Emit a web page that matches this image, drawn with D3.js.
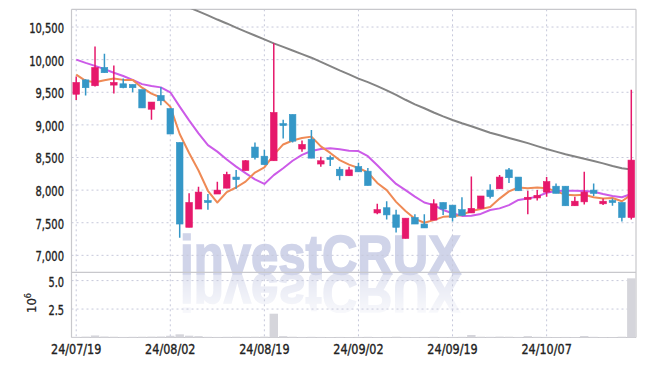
<!DOCTYPE html>
<html>
<head>
<meta charset="utf-8">
<script src="https://cdn.jsdelivr.net/npm/d3@7"></script>
<style>
  html, body { margin: 0; padding: 0; background: #fff; }
  svg { display: block; }
  .tick-label { font-family: 'DejaVu Sans Condensed', 'DejaVu Sans', sans-serif; font-size: 14px; fill: #222; stroke: #222; stroke-width: 0.35px; }
</style>
</head>
<body>
<svg id="chart" width="645" height="366"></svg>
<script>
// trading days shown on the chart
const dates = [
  '24/07/19', '24/07/22', '24/07/23', '24/07/24', '24/07/25', '24/07/26', '24/07/29', '24/07/30', '24/07/31', '24/08/01',
  '24/08/02', '24/08/05', '24/08/06', '24/08/07', '24/08/08', '24/08/09', '24/08/12', '24/08/13', '24/08/14', '24/08/16',
  '24/08/19', '24/08/20', '24/08/21', '24/08/22', '24/08/23', '24/08/26', '24/08/27', '24/08/28', '24/08/29', '24/08/30',
  '24/09/02', '24/09/03', '24/09/04', '24/09/05', '24/09/06', '24/09/09', '24/09/10', '24/09/11', '24/09/12', '24/09/13',
  '24/09/19', '24/09/20', '24/09/23', '24/09/24', '24/09/25', '24/09/26', '24/09/27', '24/09/30', '24/10/02', '24/10/04',
  '24/10/07', '24/10/08', '24/10/10', '24/10/11', '24/10/14', '24/10/15', '24/10/16', '24/10/17', '24/10/18', '24/10/21'
];

const opens = [
  9470, 9690, 9600, 9880, 9610, 9630, 9620, 9540, 9240, 9450,
  9250, 8730, 7430, 7710, 7840, 7940, 8030, 8200, 8300, 8660,
  8520, 8450, 9020, 9160, 8630, 8780, 8400, 8500, 8320, 8220,
  8360, 8290, 7650, 7730, 7620, 7260, 7580, 7480, 7540, 7810,
  7770, 7700, 7650, 7720, 8000, 8020, 8310, 8200, 7870, 7880,
  7970, 8060, 8060, 7760, 7820, 8000, 7790, 7840, 7810, 7580
];
const highs = [
  9740, 9700, 10200, 10090, 9910, 9710, 9620, 9540, 9350, 9580,
  9250, 8730, 7950, 8050, 7940, 8130, 8280, 8310, 8460, 8730,
  8620, 10250, 9080, 9160, 8760, 8920, 8510, 8530, 8360, 8360,
  8420, 8340, 7790, 7830, 7700, 7570, 7630, 7630, 7860, 7810,
  7770, 7890, 8210, 7910, 8090, 8230, 8340, 8200, 7990, 8000,
  8200, 8100, 8060, 7900, 8280, 8100, 7870, 7870, 7810, 9540
];
const lows = [
  9380, 9450, 9590, 9800, 9480, 9560, 9500, 9260, 9080, 9300,
  8860, 7270, 7430, 7710, 7700, 7940, 8030, 8020, 8300, 8470,
  8390, 8450, 8790, 8730, 8590, 8490, 8360, 8370, 8150, 8220,
  8280, 8070, 7630, 7550, 7350, 7260, 7480, 7420, 7540, 7620,
  7520, 7610, 7650, 7720, 7870, 8020, 8110, 7990, 7630, 7840,
  7900, 7950, 7760, 7760, 7780, 7910, 7770, 7760, 7520, 7550
];
const closes = [
  9650, 9570, 9880, 9800, 9650, 9570, 9570, 9260, 9350, 9370,
  8860, 7480, 7810, 7970, 7810, 8000, 8240, 8160, 8450, 8500,
  8390, 9190, 8990, 8750, 8700, 8490, 8450, 8470, 8220, 8310,
  8280, 8070, 7700, 7620, 7430, 7570, 7480, 7420, 7790, 7710,
  7580, 7610, 7720, 7910, 7900, 8200, 8190, 7990, 7890, 7920,
  8130, 7950, 7760, 7830, 7970, 7950, 7830, 7810, 7580, 8460
];
// volume, millions of shares
const volumes = [
  0.06, 0.08, 0.18, 0.09, 0.07, 0.05, 0.06, 0.07, 0.08, 0.09,
  0.15, 0.28, 0.16, 0.12, 0.06, 0.05, 0.06, 0.07, 0.06, 0.07,
  0.08, 2.09, 0.12, 0.07, 0.05, 0.06, 0.05, 0.04, 0.05, 0.04,
  0.05, 0.06, 0.04, 0.05, 0.07, 0.05, 0.04, 0.05, 0.06, 0.05,
  0.05, 0.06, 0.22, 0.07, 0.06, 0.08, 0.07, 0.05, 0.12, 0.06,
  0.05, 0.04, 0.05, 0.04, 0.13, 0.06, 0.04, 0.04, 0.07, 5.2
];

// moving averages as drawn
const ma5 = [
  9770, 9675, 9655, 9685, 9710, 9690, 9690, 9570, 9480, 9420,
  9280, 8860, 8570, 8300, 7990, 7810, 7970, 8040, 8130, 8270,
  8350, 8540, 8700, 8760, 8800, 8820, 8670, 8570, 8460, 8390,
  8340, 8270, 8110, 8000, 7820, 7680, 7560, 7500, 7540, 7590,
  7600, 7620, 7680, 7710, 7740, 7870, 7980, 8040, 8030, 8040,
  8030, 7980, 7930, 7920, 7930, 7890, 7870, 7880, 7830, 7930
];
const ma20 = [
  10000, 9950, 9905, 9855, 9800, 9750, 9690, 9625, 9595, 9575,
  9500, 9280, 9070, 8870, 8690, 8590, 8470, 8360, 8260, 8165,
  8095, 8230, 8335, 8450, 8540, 8600, 8630, 8640, 8625, 8605,
  8598, 8520, 8380, 8235, 8095, 8000, 7900, 7810, 7770, 7695,
  7645, 7605, 7608, 7635, 7695, 7720, 7770, 7850, 7870, 7900,
  7960, 7985, 7990, 7990, 7985, 7975, 7940, 7910, 7890, 7940
];
const ma120 = [
  11540, 11480, 11420, 11360, 11300, 11240, 11180, 11110, 11050, 10990,
  10920, 10860, 10800, 10740, 10680, 10615, 10555, 10490, 10430, 10370,
  10310, 10250, 10195, 10140, 10085, 10030, 9965, 9900, 9835, 9775,
  9710, 9655, 9595, 9530, 9460, 9385, 9315, 9255, 9190, 9130,
  9075, 9025, 8980, 8930, 8880, 8840, 8800, 8760, 8720, 8675,
  8630, 8590, 8550, 8515, 8480, 8445, 8410, 8370, 8335, 8315
];

const priceTicks = [7000, 7500, 8000, 8500, 9000, 9500, 10000, 10500];
const volumeTicks = [2.5, 5.0];
const dateTicks = ['24/07/19', '24/08/02', '24/08/19', '24/09/02', '24/09/19', '24/10/07'];

const colors = { up: '#e6186b', down: '#3597c7', ma5: '#ef8a55', ma20: '#cc5be8', ma120: '#848484', volume: '#d5d5db', grid: '#c6c8da', frame: '#c8c8cc' };

const svg = d3.select('#chart');
const box = { left: 71.5, right: 636, top: 9.3, price: 272.3, volume: 337.5 };

const x = d3.scaleBand().domain(dates).range([box.left, box.right]).padding(0);
const cx = d => x(d) + x.bandwidth() / 2;
const y = d3.scaleLinear().domain([6740, 10772]).range([box.price, box.top]);
const yVol = d3.scaleLinear().domain([0, 5.73]).range([box.volume, box.price]);

const rows = dates.map((d, i) => ({
  date: d, open: opens[i], high: highs[i], low: lows[i], close: closes[i],
  volume: volumes[i], ma5: ma5[i], ma20: ma20[i], ma120: ma120[i]
}));

const defs = svg.append('defs');
defs.append('clipPath').attr('id', 'price-clip')
  .append('rect').attr('x', box.left).attr('y', box.top)
  .attr('width', box.right - box.left).attr('height', box.price - box.top);
const fade = defs.append('linearGradient').attr('id', 'fade').attr('x1', 0).attr('y1', 0).attr('x2', 0).attr('y2', 1);
fade.append('stop').attr('offset', '0%').attr('stop-color', '#fff').attr('stop-opacity', 0.6);
fade.append('stop').attr('offset', '100%').attr('stop-color', '#fff').attr('stop-opacity', 0.15);
defs.append('mask').attr('id', 'fade-mask').attr('maskContentUnits', 'userSpaceOnUse')
  .append('rect').attr('x', 150).attr('y', 273).attr('width', 350).attr('height', 40).attr('fill', 'url(#fade)');

// watermark with its reflection
const mark = svg.append('g');
const markText = (g) => g.append('text')
  .attr('x', 180).attr('y', 274)
  .attr('textLength', 281).attr('lengthAdjust', 'spacingAndGlyphs')
  .style('font-family', "'Liberation Sans', Arial, sans-serif")
  .style('font-weight', 'bold').style('font-size', '55px')
  .attr('fill', '#d0d4e9').attr('stroke', '#d0d4e9').attr('stroke-width', 1.5)
  .text('investCRUX');
markText(mark);
markText(mark.append('g').attr('mask', 'url(#fade-mask)')
  .append('g').attr('transform', 'translate(0,548) scale(1,-1)'));

// grid
const grid = svg.append('g').attr('stroke', colors.grid).attr('stroke-dasharray', '2,3').attr('stroke-width', 1);
grid.append('g').selectAll('line').data(priceTicks).join('line')
  .attr('x1', box.left).attr('x2', box.right).attr('y1', d => y(d)).attr('y2', d => y(d));
grid.append('g').selectAll('line').data(volumeTicks).join('line')
  .attr('x1', box.left).attr('x2', box.right).attr('y1', d => yVol(d)).attr('y2', d => yVol(d));
grid.append('g').selectAll('line').data(dateTicks).join('line')
  .attr('x1', d => cx(d)).attr('x2', d => cx(d)).attr('y1', box.top).attr('y2', box.volume);

// frame
const frame = svg.append('g').attr('stroke', colors.frame).attr('stroke-width', 1.2).attr('fill', 'none');
[box.top, box.price, box.volume].forEach(v => {
  frame.append('line').attr('x1', box.left).attr('x2', box.right).attr('y1', v).attr('y2', v);
});
[box.left, box.right].forEach(v => {
  frame.append('line').attr('x1', v).attr('x2', v).attr('y1', box.top).attr('y2', box.volume);
});

// volume bars
svg.append('g').selectAll('rect').data(rows).join('rect')
  .attr('x', d => cx(d.date) - 4.2).attr('width', 8.4)
  .attr('y', d => yVol(d.volume)).attr('height', d => box.volume - yVol(d.volume))
  .attr('fill', colors.volume);

// moving averages
const plot = svg.append('g').attr('clip-path', 'url(#price-clip)');
['ma120', 'ma20', 'ma5'].forEach(key => {
  plot.append('path').datum(rows)
    .attr('fill', 'none').attr('stroke', colors[key]).attr('stroke-width', 2)
    .attr('stroke-linejoin', 'round')
    .attr('d', d3.line().x(d => cx(d.date)).y(d => y(d[key])));
});

// candles
const candle = plot.append('g').selectAll('g').data(rows).join('g')
  .attr('fill', d => d.close >= d.open ? colors.up : colors.down)
  .attr('stroke', d => d.close >= d.open ? colors.up : colors.down);
candle.append('line')
  .attr('x1', d => cx(d.date)).attr('x2', d => cx(d.date))
  .attr('y1', d => y(d.high)).attr('y2', d => y(d.low))
  .attr('stroke-width', 1.5);
candle.append('rect')
  .attr('x', d => cx(d.date) - 3.3).attr('width', 6.6)
  .attr('y', d => y(Math.max(d.open, d.close)))
  .attr('height', d => Math.max(2, Math.abs(y(d.open) - y(d.close))))
  .attr('stroke-width', 0.6);

// axis labels, squeezed horizontally to match the narrow face
const label = (sel, anchor, sx) => sel.append('g').attr('transform', `scale(${sx},1)`)
  .append('text').attr('class', 'tick-label').attr('text-anchor', anchor);
const fmt = d3.format(',');
svg.append('g').selectAll('g').data(priceTicks).join('g')
  .attr('transform', d => `translate(64,${y(d) + 6})`)
  .call(g => label(g, 'end', 0.79).text(d => fmt(d)));
svg.append('g').selectAll('g').data(volumeTicks).join('g')
  .attr('transform', d => `translate(64,${yVol(d) + 6})`)
  .call(g => label(g, 'end', 0.78).text(d => d.toFixed(1)));
svg.append('g').selectAll('g').data(dateTicks).join('g')
  .attr('transform', d => `translate(${cx(d)},354)`)
  .call(g => label(g, 'middle', 0.89).text(d => d));

const unit = svg.append('text').attr('class', 'tick-label')
  .attr('transform', 'translate(36,303) rotate(-90)').attr('text-anchor', 'middle')
  .style('font-size', '13px').style('stroke-width', '0.2px');
unit.append('tspan').text('10');
unit.append('tspan').attr('dy', -5).style('font-size', '9px').text('6');
</script>
</body>
</html>
